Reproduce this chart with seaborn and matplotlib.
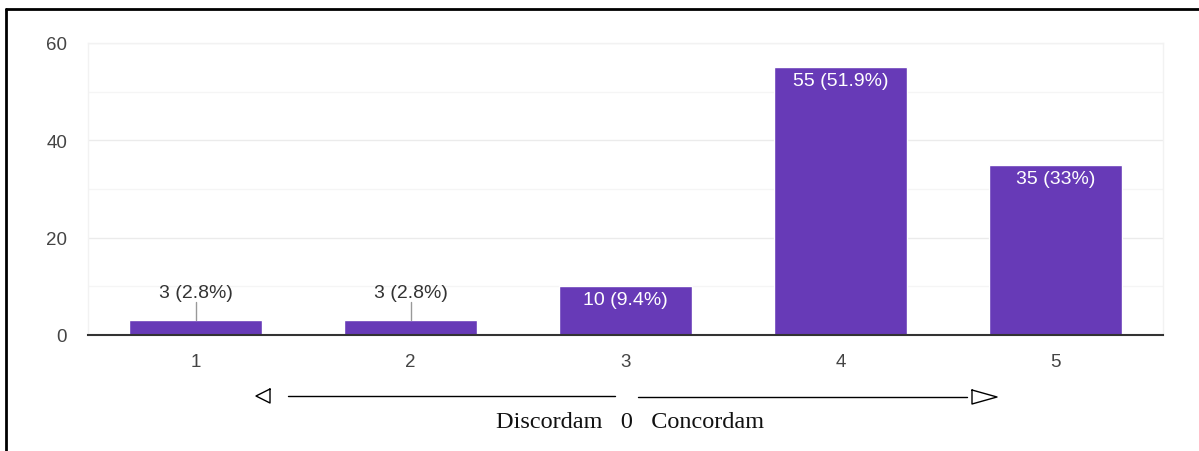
import matplotlib
matplotlib.use("Agg")
import matplotlib.pyplot as plt
import seaborn as sns
import pandas as pd
from matplotlib.lines import Line2D

# Responses per scale point
categories = ["1", "2", "3", "4", "5"]
counts = [3, 3, 10, 55, 35]
percents = ["2.8%", "2.8%", "9.4%", "51.9%", "33%"]

sns.set_theme(style="white")
plt.rcParams["font.family"] = ["Liberation Sans", "DejaVu Sans"]

df = pd.DataFrame({"cat": categories, "n": counts})

fig = plt.figure(figsize=(11.99, 4.52), dpi=100)
ax = fig.add_axes([88 / 1199, 1 - 336 / 452, (1163 - 88) / 1199, (336 - 44) / 452])

purple = "#673AB7"
sns.barplot(data=df, x="cat", y="n", color=purple, width=0.615,
            saturation=1, ax=ax, zorder=3)

ax.set_xlim(-0.5, 4.5)
ax.set_ylim(0, 60)
ax.set_yticks([0, 20, 40, 60])
ax.set_yticks([10, 30, 50], minor=True)
ax.grid(axis="y", which="major", color="#ebebeb", lw=1, zorder=0)
ax.grid(axis="y", which="minor", color="#f5f5f5", lw=1, zorder=0)
ax.set_xlabel("")
ax.set_ylabel("")
for s in ["left", "right", "top"]:
    ax.spines[s].set_color("#f2f2f2")
    ax.spines[s].set_linewidth(1)
ax.spines["bottom"].set_color("#333333")
ax.spines["bottom"].set_linewidth(1.5)
ax.spines["bottom"].set_zorder(5)
ax.tick_params(axis="both", which="both", length=0, labelsize=13.5,
               labelcolor="#444444")
ax.tick_params(axis="y", pad=15)
ax.tick_params(axis="x", pad=13)

# Value labels: inside tall bars, above short bars with a leader line
for i, (n, p) in enumerate(zip(counts, percents)):
    label = f"{n} ({p})"
    if n >= 8:
        ax.text(i, n - 1.0, label, ha="center", va="top", color="white",
                fontsize=14, zorder=6)
    else:
        ax.plot([i, i], [n, n + 3.7], color="#999999", lw=1, zorder=4)
        ax.text(i, n + 3.9, label, ha="center", va="bottom", color="#333333",
                fontsize=14, zorder=6)

# Scale annotation below the axis
def fx(px):
    return px / 1199

def fy(py):
    return 1 - py / 452

fig.add_artist(Line2D([fx(288), fx(615)], [fy(397), fy(397)], color="black", lw=1))
fig.add_artist(Line2D([fx(638), fx(967)], [fy(398), fy(398)], color="black", lw=1))
fig.add_artist(Line2D([fx(270), fx(256), fx(270), fx(270)],
                      [fy(390), fy(397), fy(404), fy(390)], color="black", lw=1))
fig.add_artist(Line2D([fx(972), fx(997), fx(972), fx(972)],
                      [fy(391), fy(398), fy(405), fy(391)], color="black", lw=1))
fig.text(fx(630), fy(423), "Discordam   0   Concordam", ha="center", va="center",
         family=["Liberation Serif", "DejaVu Serif"], fontsize=17.5, color="#111111")

# Frame lines along top and left edges
fig.add_artist(Line2D([fx(6), 1], [fy(10), fy(10)], color="black", lw=2))
fig.add_artist(Line2D([fx(6), fx(6)], [fy(10), 0], color="black", lw=2))

fig.savefig("out.png", dpi=100, facecolor="white")
